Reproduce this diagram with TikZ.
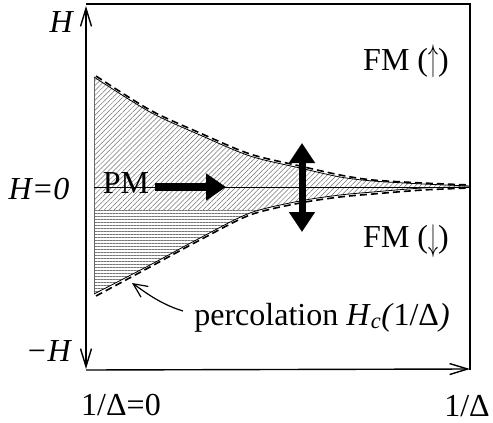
\documentclass[tikz,border=0pt]{standalone}
\usepackage{fontspec}
\setmainfont{Liberation Serif}
\usetikzlibrary{arrows.meta,patterns.meta}
\newcommand{\tallup}{\raisebox{-1pt}{\scalebox{0.8}[1.5]{$\uparrow$}}}
\newcommand{\talldown}{\raisebox{-3pt}{\scalebox{0.8}[1.5]{$\downarrow$}}}
\begin{document}
\begin{tikzpicture}[x=1pt,y=-1pt,
  font=\fontsize{32}{38}\selectfont,
  frame/.style={line width=1.4pt},
  axisarrow/.style={line width=1.4pt,-{Straight Barb[length=18pt,width=11pt,line width=1.4pt]}},
  bigarrow/.style={line width=8pt,-{Triangle[length=20pt,width=26pt]}},
  bigdouble/.style={line width=7pt,{Triangle[length=20pt,width=25pt]}-{Triangle[length=20pt,width=25pt]}},
  curvesolid/.style={line width=0.8pt},
  curvedash/.style={line width=1.6pt,dash pattern=on 7pt off 4pt},
  diaghatch/.style={pattern={Lines[angle=45,distance=3.5pt,line width=0.5pt]},pattern color=black!55},
  horizhatch/.style={pattern={Lines[angle=0,distance=3pt,line width=0.5pt]},pattern color=black!55},
  lab/.style={inner sep=0pt,anchor=base}]
\useasboundingbox (0,0) rectangle (493,423);
% hatched region
\begin{scope}
\clip plot[smooth] coordinates {(94,77) (150,112) (200,135) (250,156) (300,168) (340,177) (373,181) (423,184) (470,186)} -- plot[smooth] coordinates {(470,187) (423,188) (373,192) (340,195) (300,201) (250,213) (200,238) (150,265) (94,294)} -- cycle;
\fill[diaghatch] (90,60) rectangle (475,209);
\fill[horizhatch] (90,209) rectangle (475,300);
\end{scope}
\draw[line width=0.6pt,black!60] (94,77) -- (94,294);
% curves
\draw[curvesolid] plot[smooth] coordinates {(94,77) (150,112) (200,135) (250,156) (300,168) (340,177) (373,181) (423,184) (470,186)};
\draw[curvedash] plot[smooth] coordinates {(96,76) (150,110) (200,133) (250,154) (300,166) (340,175) (373,180) (423,183) (470,185)};
\draw[curvesolid] plot[smooth] coordinates {(94,294) (150,265) (200,238) (250,213) (300,201) (340,195) (373,192) (423,188) (470,187)};
\draw[curvedash] plot[smooth] coordinates {(96,296) (150,267) (200,240) (250,215) (300,203) (340,197) (373,194) (423,190) (470,188)};
% frame
\coordinate (tl) at (86,4);
\coordinate (tr) at (470,4);
\coordinate (br) at (470,370);
\coordinate (bl) at (86,370);
\coordinate (mid) at (86,187);
\coordinate (top) at (86,6);
\coordinate (bot) at (86,369);
\coordinate (xend) at (470,369);
\draw[frame] (tl) -- (tr) -- (br);
\draw[axisarrow] (bl) -- (xend);
\draw[axisarrow] (mid) -- (top);
\draw[axisarrow] (mid) -- (bot);
% H=0 line
\coordinate (h0a) at (94,187);
\coordinate (h0b) at (470,187);
\draw[line width=1pt] (h0a) -- (h0b);
% labels
\node[lab] (H) at (62,32) {\textit{H}};
\node[lab] (H0) at (39,199) {\textit{H=0}};
\node[lab] (mH) at (49,361) {\textit{−H}};
\node[lab] (x0) at (121,415) {1/Δ=0};
\node[lab] (x1) at (467,416) {1/Δ};
\node[lab] (PM) at (126,193) {PM};
\node[lab] (FMu) at (406,70) {FM (\tallup)};
\node[lab] (FMd) at (406,247) {FM (\talldown)};
\node[lab] (perc) at (322,325) {percolation \textit{H}\textsubscript{\textit{c}}\textit{(}1/Δ\textit{)}};
% arrows
\coordinate (pma) at (155,187);
\coordinate (pmb) at (226,187);
\draw[bigarrow] (pma) -- (pmb);
\coordinate (va) at (302,143);
\coordinate (vb) at (302,232);
\draw[bigdouble] (va) -- (vb);
\coordinate (ptail) at (183,311);
\coordinate (ptip) at (132,283);
\draw[line width=1.2pt,-{Straight Barb[length=14pt,width=13pt,line width=1.2pt]}] (ptail) .. controls (160,304) and (145,292) .. (ptip);
\end{tikzpicture}
\end{document}
